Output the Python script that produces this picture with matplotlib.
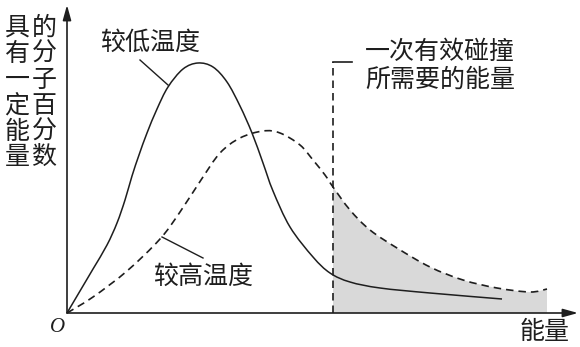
import matplotlib
matplotlib.use("Agg")
import matplotlib.pyplot as plt
from matplotlib.path import Path
from matplotlib.patches import PathPatch, FancyArrowPatch

plt.rcParams['font.family'] = ['Noto Sans CJK SC', 'DejaVu Sans']

# ---- data (energy, fraction of molecules) ----
low_T_energy = [0, 13, 26, 40, 50, 58, 65, 72, 80, 90, 101, 116, 131, 146, 160, 173,
                185, 196, 206, 223, 246, 263, 283, 313, 363, 435]
low_T_frac = [0, 22, 44, 68, 90, 113, 137, 158, 180, 204, 226, 244, 250, 246, 231, 207,
              180, 150, 122, 86, 56, 40, 31, 25, 20, 14]

high_T_energy = [0, 26, 60, 93, 113, 134, 153, 173, 196, 213, 233, 246, 258, 266,
                 283, 303, 330, 363, 396, 430, 463, 480]
high_T_frac = [0, 16, 42, 74, 101, 133, 160, 175, 182, 180, 168, 153, 138, 126,
               103, 83, 65, 46, 33, 25, 21, 24]

Ea = 266          # activation energy (dashed vertical line)
Ea_top = 251      # top of the dashed marker line

ylabel_left = ['具', '有', '一', '定', '能', '量']
ylabel_right = ['的', '分', '子', '百', '分', '数']


def smooth_verts(xs, ys):
    """Catmull-Rom through the given points, expressed as cubic Bezier codes."""
    pts = list(zip(xs, ys))
    n = len(pts)
    verts = [pts[0]]
    codes = [Path.MOVETO]
    for i in range(n - 1):
        p0 = pts[i - 1] if i > 0 else pts[i]
        p1 = pts[i]
        p2 = pts[i + 1]
        p3 = pts[i + 2] if i + 2 < n else pts[i + 1]
        c1 = (p1[0] + (p2[0] - p0[0]) / 6.0, p1[1] + (p2[1] - p0[1]) / 6.0)
        c2 = (p2[0] - (p3[0] - p1[0]) / 6.0, p2[1] - (p3[1] - p1[1]) / 6.0)
        verts += [c1, c2, p2]
        codes += [Path.CURVE4] * 3
    return verts, codes


fig = plt.figure(figsize=(5.8, 3.47), dpi=100)
ax = fig.add_axes([0, 0, 1, 1])
ax.set_xlim(-67, 513)
ax.set_ylim(-34, 313)
ax.axis('off')

ink = '#1e1e1e'

# shaded area under high-T curve beyond Ea
k = high_T_energy.index(Ea)
fv, fc = smooth_verts(high_T_energy[k:], high_T_frac[k:])
fv += [(high_T_energy[-1], 0), (Ea, 0), (Ea, 0)]
fc += [Path.LINETO, Path.LINETO, Path.CLOSEPOLY]
ax.add_patch(PathPatch(Path(fv, fc), facecolor='#d9d9d9', edgecolor='none', zorder=1))

# curves
v, c = smooth_verts(low_T_energy, low_T_frac)
ax.add_patch(PathPatch(Path(v, c), fill=False, edgecolor=ink, lw=1.1, zorder=3))
v, c = smooth_verts(high_T_energy, high_T_frac)
ax.add_patch(PathPatch(Path(v, c), fill=False, edgecolor=ink, lw=1.2,
                       linestyle=(0, (4.5, 3)), zorder=3))

# activation energy marker
ax.plot([Ea, Ea], [0, Ea_top], color=ink, lw=1.2, linestyle=(0, (4.5, 3)), zorder=3)
ax.plot([Ea, Ea + 19], [Ea_top, Ea_top], color=ink, lw=1.2, zorder=3)

# axes with arrows
ax.add_patch(FancyArrowPatch((0, 0), (0, 308), arrowstyle='-|>,head_length=0.9,head_width=0.25',
                             mutation_scale=10, color=ink, lw=1.2, shrinkA=0, shrinkB=0, zorder=4))
ax.add_patch(FancyArrowPatch((0, 0), (511, 0), arrowstyle='-|>,head_length=0.9,head_width=0.25',
                             mutation_scale=10, color=ink, lw=1.2, shrinkA=0, shrinkB=0, zorder=4))

# leader lines
ax.plot([73, 101], [253, 228], color=ink, lw=1.0)
ax.plot([95, 136], [76, 55], color=ink, lw=1.0)

fs = 18
ax.text(83, 270, '较低温度', fontsize=fs, color=ink, ha='center', va='center')
ax.text(136, 36, '较高温度', fontsize=fs, color=ink, ha='center', va='center')
ax.text(373, 261, '一次有效碰撞', fontsize=fs, color=ink, ha='center', va='center')
ax.text(373, 233, '所需要的能量', fontsize=fs, color=ink, ha='center', va='center')
ax.text(478, -19, '能量', fontsize=fs, color=ink, ha='center', va='center')
ax.text(-9, -14, 'O', fontsize=15, color=ink, ha='center', va='center',
        family='Liberation Serif', style='italic')

rows_y = [285, 259, 233, 207, 181, 156]
for ch_l, ch_r, yy in zip(ylabel_left, ylabel_right, rows_y):
    ax.text(-50, yy, ch_l, fontsize=fs, color=ink, ha='center', va='center')
    ax.text(-23, yy, ch_r, fontsize=fs, color=ink, ha='center', va='center')

fig.savefig('out.png', dpi=100, facecolor='white')
